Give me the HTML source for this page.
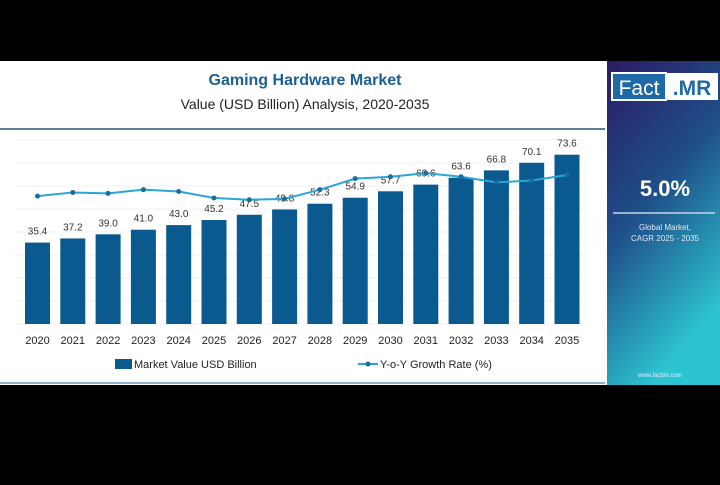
<!DOCTYPE html>
<html><head><meta charset="utf-8"><style>
body{margin:0;width:720px;height:480px;background:#000;overflow:hidden;font-family:"Liberation Sans",sans-serif}
</style></head><body>
<svg width="720" height="480" viewBox="0 0 720 480">
<defs>
<linearGradient id="pg" x1="0" y1="0" x2="0.4" y2="1">
<stop offset="0" stop-color="#2a1b63"/><stop offset="0.5" stop-color="#1f4f8a"/><stop offset="1" stop-color="#2cc4cf"/>
</linearGradient>
</defs>
<rect x="0" y="61" width="607" height="324" fill="#fff"/>
<rect x="607" y="61" width="113" height="324" fill="url(#pg)"/>
<text x="305" y="85" text-anchor="middle" font-size="16" font-weight="bold" fill="#1d6097">Gaming Hardware Market</text>
<text x="305" y="109" text-anchor="middle" font-size="14" fill="#222">Value (USD Billion) Analysis, 2020-2035</text>
<line x1="0" y1="129" x2="605" y2="129" stroke="#5a7f9f" stroke-width="2"/>
<line x1="0" y1="383" x2="605" y2="383" stroke="#8fb0c8" stroke-width="2"/>
<g id="grid"></g><g id="bars"></g><g id="line"></g><g id="xlabels"></g>
<g>
<rect x="115" y="359" width="17" height="10" fill="#0b5a8f"/>
<text x="134" y="368" font-size="11" fill="#222">Market Value USD Billion</text>
<line x1="358" y1="364" x2="378" y2="364" stroke="#2aa6d6" stroke-width="2"/>
<circle cx="368" cy="364" r="2.5" fill="#1a6d9e"/>
<text x="380" y="368" font-size="11" fill="#222">Y-o-Y Growth Rate (%)</text>
</g>
<g>
<rect x="612" y="73" width="54" height="27" fill="#1f6aa6" stroke="#fff" stroke-width="2"/>
<text x="639" y="95" text-anchor="middle" font-size="21" fill="#fff">Fact</text>
<rect x="667" y="73" width="51" height="27" fill="#fff"/>
<text x="692" y="95" text-anchor="middle" font-size="21" font-weight="bold" fill="#1f6aa6">.MR</text>
</g>
<text x="665" y="196" text-anchor="middle" font-size="22" font-weight="bold" fill="#fff">5.0%</text>
<line x1="613" y1="213" x2="715" y2="213" stroke="#c8d4ea" stroke-width="1.5"/>
<text x="665" y="230" text-anchor="middle" font-size="8" fill="#e6e6f0">Global Market,</text>
<text x="665" y="241" text-anchor="middle" font-size="8" fill="#e6e6f0">CAGR 2025 - 2035</text>
<text x="660" y="377" text-anchor="middle" font-size="6" fill="#eef">www.factmr.com</text>
</svg>
<script>
const years=["2020","2021","2022","2023","2024","2025","2026","2027","2028","2029","2030","2031","2032","2033","2034","2035"];
const marketValues=[35.4,37.2,39.0,41.0,43.0,45.2,47.5,49.8,52.3,54.9,57.7,60.6,63.6,66.8,70.1,73.6];
const valueLabels=["35.4","37.2","39.0","41.0","43.0","45.2","47.5","49.8","52.3","54.9","57.7","60.6","63.6","66.8","70.1","73.6"];
const growthRates=[6.95,7.15,7.1,7.3,7.2,6.85,6.75,6.8,7.3,7.9,8.0,8.2,8.0,7.7,7.8,8.1];
const yTicks=[0,10,20,30,40,50,60,70,80];
const NS="http://www.w3.org/2000/svg";
const baseY=324,topY=140;
function xPos(i){return 37.5+i*35.3;}
function yPos(v){return baseY-v/80*(baseY-topY);}
function y2Pos(r){return baseY-r/10*(baseY-topY);}
function mk(t,a,p){const e=document.createElementNS(NS,t);for(const k in a)e.setAttribute(k,a[k]);p.appendChild(e);return e;}
const gridG=document.getElementById('grid'),barsG=document.getElementById('bars'),lineG=document.getElementById('line'),xlabG=document.getElementById('xlabels');
yTicks.forEach(t=>{const l=mk('line',{x1:15,x2:585,y1:yPos(t),y2:yPos(t),stroke:'#eef1f4','stroke-width':1},gridG);

});
marketValues.forEach((v,i)=>{
const r=mk('rect',{x:xPos(i)-12.5,y:yPos(v),width:25,height:baseY-yPos(v),fill:'#0b5a8f'},barsG);


const t=mk('text',{x:xPos(i),y:yPos(v)-8,'text-anchor':'middle','font-size':10,fill:'#333'},barsG);t.textContent=valueLabels[i];


const yl=mk('text',{x:xPos(i),y:344,'text-anchor':'middle','font-size':11,fill:'#222'},xlabG);yl.textContent=years[i];


});
let d='';growthRates.forEach((r,i)=>{d+=(i?'L':'M')+xPos(i)+' '+y2Pos(r);});
const p=mk('path',{d:d,fill:'none',stroke:'#2aa6d6','stroke-width':2},lineG);


growthRates.forEach((r,i)=>{const c=mk('circle',{cx:xPos(i),cy:y2Pos(r),r:2.5,fill:'#1a6d9e'},lineG);

});
</script>
</body></html>
